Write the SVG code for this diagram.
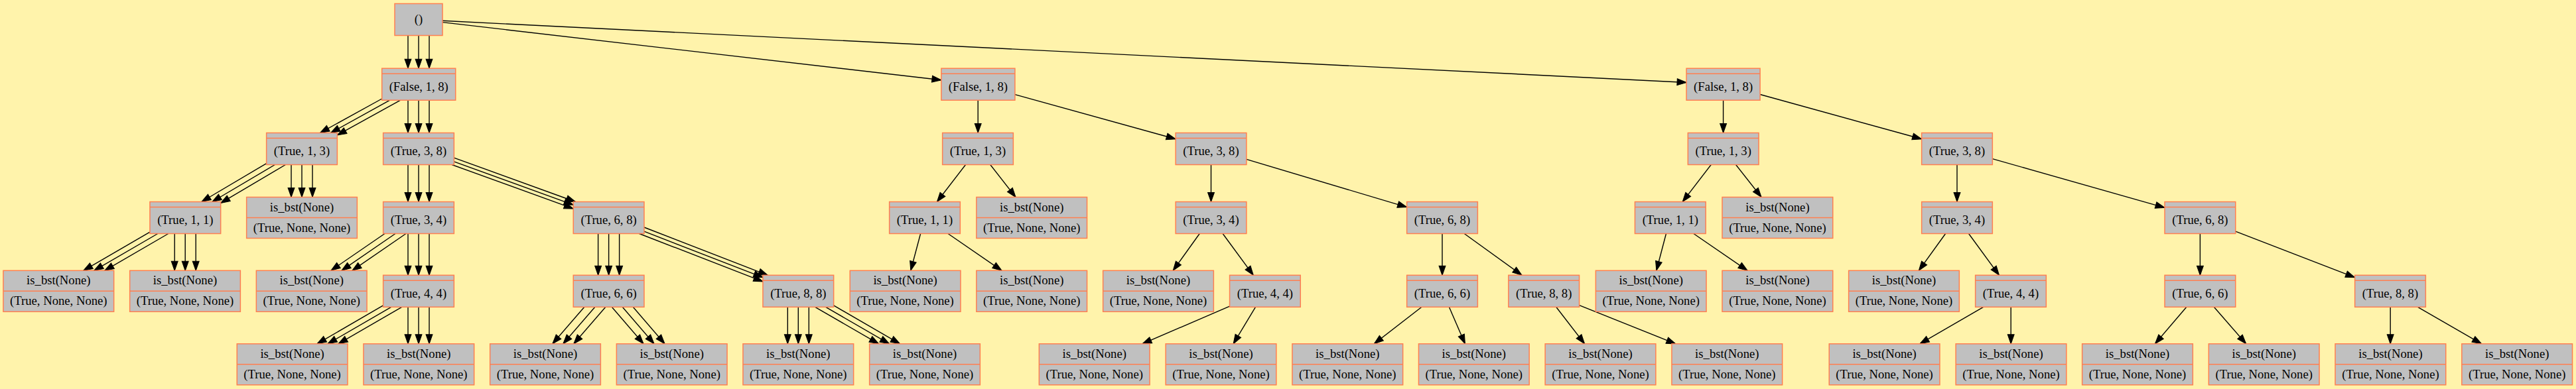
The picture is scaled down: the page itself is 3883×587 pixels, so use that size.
<svg xmlns="http://www.w3.org/2000/svg" width="3883" height="587" viewBox="0 0 3883 587">
<defs>
<style>
.bg{fill:#fff3ab}
.nr{fill:#c0c0c0;stroke:#ff7f50;stroke-width:1.5}
.nl{stroke:#ff7f50;stroke-width:1.5}
.nt{font-family:"Liberation Serif","Times New Roman",serif;font-size:18.67px;text-anchor:middle;fill:#000}
#edges path{fill:none;stroke:#000;stroke-width:1.4;marker-end:url(#ah)}
</style>
<marker id="ah" markerUnits="userSpaceOnUse" markerWidth="14" markerHeight="10" refX="13.3" refY="4.67" orient="auto" viewBox="0 0 13.3 9.33" overflow="visible">
<path d="M0,0L13.3,4.67L0,9.33z" fill="#000" stroke="#000" stroke-width="1"/>
</marker>
<g id="rec">
<rect class="nr" x="-53.35" y="-24" width="106.7" height="48"/>
<line class="nl" x1="-53.35" y1="-16" x2="53.35" y2="-16"/>
</g>
<g id="recF">
<rect class="nr" x="-55.5" y="-24" width="111" height="48"/>
<line class="nl" x1="-55.5" y1="-16" x2="55.5" y2="-16"/>
</g>
<g id="leaf">
<rect class="nr" x="-83.35" y="-31" width="166.7" height="62"/>
<line class="nl" x1="-83.35" y1="0" x2="83.35" y2="0"/>
<text class="nt" x="0" y="-10">is_bst(None)</text>
<text class="nt" x="0" y="21">(True, None, None)</text>
</g>
</defs>
<rect class="bg" x="0" y="0" width="3883" height="587"/>

<g id="edges">
<path d="M615,53.5L615,103.2"/><path d="M631,53.5L631,103.2"/><path d="M647,53.5L647,103.2"/>
<path d="M575.7,149L482.5,200.5"/><path d="M587.7,151.2L498.5,200.5"/><path d="M603.7,151.2L508.35,203.9"/>
<path d="M615,151.2L615,200.5"/><path d="M631,151.2L631,200.5"/><path d="M647,151.2L647,200.5"/>
<path d="M401.65,246.6L303.85,304.5"/><path d="M414.45,248.5L319.85,304.5"/><path d="M430.45,248.5L332.65,306.4"/>
<path d="M439,248.5L439,297.5"/><path d="M455,248.5L455,297.5"/><path d="M471,248.5L471,297.5"/>
<path d="M615,248.5L615,304.5"/><path d="M631,248.5L631,304.5"/><path d="M647,248.5L647,304.5"/>
<path d="M681.14,248.5L864.25,314.95"/><path d="M684.35,243.86L864.25,309.14"/><path d="M684.35,238.05L867.46,304.5"/>
<path d="M225.95,350.15L125.79,408.3"/><path d="M237.89,352.5L141.79,408.3"/><path d="M253.89,352.5L157.79,408.3"/>
<path d="M263.2,352.5L263.2,408.3"/><path d="M279.2,352.5L279.2,408.3"/><path d="M295.2,352.5L295.2,408.3"/>
<path d="M580.03,352.5L498.87,408.3"/><path d="M596.03,352.5L514.87,408.3"/><path d="M612.03,352.5L530.87,408.3"/>
<path d="M615,352.5L615,415.3"/><path d="M631,352.5L631,415.3"/><path d="M647,352.5L647,415.3"/>
<path d="M901.6,352.5L901.6,415.3"/><path d="M917.6,352.5L917.6,415.3"/><path d="M933.6,352.5L933.6,415.3"/>
<path d="M963.48,352.5L1149.95,424.81"/><path d="M970.95,349.19L1149.95,418.61"/><path d="M970.95,342.99L1157.42,415.3"/>
<path d="M577.65,460.98L478.02,518.8"/><path d="M589.65,463.3L494.02,518.8"/><path d="M605.65,463.3L510.02,518.8"/>
<path d="M615,463.3L615,518.8"/><path d="M631,463.3L631,518.8"/><path d="M647,463.3L647,518.8"/>
<path d="M880.84,463.3L832.82,518.8"/><path d="M896.84,463.3L848.82,518.8"/><path d="M912.84,463.3L864.82,518.8"/>
<path d="M922.25,463.3L970.02,518.8"/><path d="M938.25,463.3L986.02,518.8"/><path d="M954.25,463.3L1002.02,518.8"/>
<path d="M1187.3,463.3L1187.3,518.8"/><path d="M1203.3,463.3L1203.3,518.8"/><path d="M1219.3,463.3L1219.3,518.8"/>
<path d="M1228.72,463.3L1324.5,518.8"/><path d="M1244.72,463.3L1340.5,518.8"/><path d="M1256.65,460.94L1356.5,518.8"/>

<path d="M667,33.67L1418.9,120.77"/>
<path d="M667,31.29L2542.1,124.44"/>

<path d="M1474.2,151.2L1474.2,200.5"/>
<path d="M1529.9,142.58L1772.15,209.72"/>
<path d="M1455.54,248.5L1412.46,304.5"/>
<path d="M1492.74,248.5L1531,297.5"/>
<path d="M1825.5,248.5L1825.5,304.5"/>
<path d="M1878.85,240.42L2120.65,312.58"/>
<path d="M1387.63,352.5L1372.83,408.3"/>
<path d="M1428.95,352.5L1510.06,408.3"/>
<path d="M1808.26,352.5L1768.26,408.3"/>
<path d="M1843.13,352.5L1889.27,415.3"/>
<path d="M2174,352.5L2174,415.3"/>
<path d="M2207.18,352.5L2294.02,415.3"/>
<path d="M1853.55,462.22L1721.86,518.8"/>
<path d="M1892.48,463.3L1859.13,518.8"/>
<path d="M2143.01,463.3L2071.33,518.8"/>
<path d="M2184.38,463.3L2208.39,518.8"/>
<path d="M2345.73,463.3L2388.57,518.8"/>
<path d="M2380.55,460.65L2525.84,518.8"/>

<path d="M2597.6,151.2L2597.6,200.5"/>
<path d="M2653.1,142.52L2896.65,209.77"/>
<path d="M2579.26,248.5L2536.24,304.5"/>
<path d="M2616.55,248.5L2655.05,297.5"/>
<path d="M2950,248.5L2950,304.5"/>
<path d="M3003.35,239.64L3263.05,313.36"/>
<path d="M2511.49,352.5L2496.85,408.3"/>
<path d="M2552.84,352.5L2634.15,408.3"/>
<path d="M2932.66,352.5L2892.4,408.3"/>
<path d="M2967.54,352.5L3013.46,415.3"/>
<path d="M3316.4,352.5L3316.4,415.3"/>
<path d="M3369.75,349.13L3549.65,418.67"/>
<path d="M2989.65,463.3L2894.02,518.8"/>
<path d="M3031.2,463.3L3031.2,518.8"/>
<path d="M3295.9,463.3L3248.48,518.8"/>
<path d="M3337.32,463.3L3385.68,518.8"/>
<path d="M3603.2,463.3L3603.2,518.8"/>
<path d="M3644.53,463.3L3740.56,518.8"/>
</g>

<g id="root"><rect class="nr" x="595" y="5.5" width="72" height="48"/><text class="nt" x="631" y="35">()</text></g>

<g id="t1_a" transform="translate(631.2,127.2)"><use href="#recF"/><text class="nt" x="0" y="9.5">(False, 1, 8)</text></g>
<g id="t1_b" transform="translate(455,224.5)"><use href="#rec"/><text class="nt" x="0" y="9.5">(True, 1, 3)</text></g>
<g id="t1_c" transform="translate(631,224.5)"><use href="#rec"/><text class="nt" x="0" y="9.5">(True, 3, 8)</text></g>
<g id="t1_d" transform="translate(279.3,328.5)"><use href="#rec"/><text class="nt" x="0" y="9.5">(True, 1, 1)</text></g>
<g id="t1_e" transform="translate(455,328.5)"><use href="#leaf"/></g>
<g id="t1_f" transform="translate(631,328.5)"><use href="#rec"/><text class="nt" x="0" y="9.5">(True, 3, 4)</text></g>
<g id="t1_g" transform="translate(917.6,328.5)"><use href="#rec"/><text class="nt" x="0" y="9.5">(True, 6, 8)</text></g>
<g id="t1_d1" transform="translate(88.3,439.3)"><use href="#leaf"/></g>
<g id="t1_d2" transform="translate(279,439.3)"><use href="#leaf"/></g>
<g id="t1_f1" transform="translate(469.7,439.3)"><use href="#leaf"/></g>
<g id="t1_h" transform="translate(631,439.3)"><use href="#rec"/><text class="nt" x="0" y="9.5">(True, 4, 4)</text></g>
<g id="t1_i" transform="translate(917.6,439.3)"><use href="#rec"/><text class="nt" x="0" y="9.5">(True, 6, 6)</text></g>
<g id="t1_j" transform="translate(1203.3,439.3)"><use href="#rec"/><text class="nt" x="0" y="9.5">(True, 8, 8)</text></g>
<g id="t1_h1" transform="translate(440.6,549.8)"><use href="#leaf"/></g>
<g id="t1_h2" transform="translate(631.3,549.8)"><use href="#leaf"/></g>
<g id="t1_i1" transform="translate(822,549.8)"><use href="#leaf"/></g>
<g id="t1_i2" transform="translate(1012.7,549.8)"><use href="#leaf"/></g>
<g id="t1_j1" transform="translate(1203.3,549.8)"><use href="#leaf"/></g>
<g id="t1_j2" transform="translate(1394,549.8)"><use href="#leaf"/></g>

<g id="t2_a" transform="translate(1474.4,127.2)"><use href="#recF"/><text class="nt" x="0" y="9.5">(False, 1, 8)</text></g>
<g id="t2_b" transform="translate(1474,224.5)"><use href="#rec"/><text class="nt" x="0" y="9.5">(True, 1, 3)</text></g>
<g id="t2_c" transform="translate(1825.5,224.5)"><use href="#rec"/><text class="nt" x="0" y="9.5">(True, 3, 8)</text></g>
<g id="t2_d" transform="translate(1394,328.5)"><use href="#rec"/><text class="nt" x="0" y="9.5">(True, 1, 1)</text></g>
<g id="t2_e" transform="translate(1555.2,328.5)"><use href="#leaf"/></g>
<g id="t2_f" transform="translate(1825.5,328.5)"><use href="#rec"/><text class="nt" x="0" y="9.5">(True, 3, 4)</text></g>
<g id="t2_g" transform="translate(2174,328.5)"><use href="#rec"/><text class="nt" x="0" y="9.5">(True, 6, 8)</text></g>
<g id="t2_d1" transform="translate(1364.6,439.3)"><use href="#leaf"/></g>
<g id="t2_d2" transform="translate(1555.2,439.3)"><use href="#leaf"/></g>
<g id="t2_f1" transform="translate(1746,439.3)"><use href="#leaf"/></g>
<g id="t2_h" transform="translate(1906.9,439.3)"><use href="#rec"/><text class="nt" x="0" y="9.5">(True, 4, 4)</text></g>
<g id="t2_i" transform="translate(2174,439.3)"><use href="#rec"/><text class="nt" x="0" y="9.5">(True, 6, 6)</text></g>
<g id="t2_j" transform="translate(2327.2,439.3)"><use href="#rec"/><text class="nt" x="0" y="9.5">(True, 8, 8)</text></g>
<g id="t2_h1" transform="translate(1649.7,549.8)"><use href="#leaf"/></g>
<g id="t2_h2" transform="translate(1840.5,549.8)"><use href="#leaf"/></g>
<g id="t2_i1" transform="translate(2031.3,549.8)"><use href="#leaf"/></g>
<g id="t2_i2" transform="translate(2221.8,549.8)"><use href="#leaf"/></g>
<g id="t2_j1" transform="translate(2412.5,549.8)"><use href="#leaf"/></g>
<g id="t2_j2" transform="translate(2603.3,549.8)"><use href="#leaf"/></g>

<g id="t3_a" transform="translate(2597.6,127.2)"><use href="#recF"/><text class="nt" x="0" y="9.5">(False, 1, 8)</text></g>
<g id="t3_b" transform="translate(2597.7,224.5)"><use href="#rec"/><text class="nt" x="0" y="9.5">(True, 1, 3)</text></g>
<g id="t3_c" transform="translate(2950,224.5)"><use href="#rec"/><text class="nt" x="0" y="9.5">(True, 3, 8)</text></g>
<g id="t3_d" transform="translate(2517.8,328.5)"><use href="#rec"/><text class="nt" x="0" y="9.5">(True, 1, 1)</text></g>
<g id="t3_e" transform="translate(2679.4,328.5)"><use href="#leaf"/></g>
<g id="t3_f" transform="translate(2950,328.5)"><use href="#rec"/><text class="nt" x="0" y="9.5">(True, 3, 4)</text></g>
<g id="t3_g" transform="translate(3316.4,328.5)"><use href="#rec"/><text class="nt" x="0" y="9.5">(True, 6, 8)</text></g>
<g id="t3_d1" transform="translate(2488.7,439.3)"><use href="#leaf"/></g>
<g id="t3_d2" transform="translate(2679.4,439.3)"><use href="#leaf"/></g>
<g id="t3_f1" transform="translate(2870,439.3)"><use href="#leaf"/></g>
<g id="t3_h" transform="translate(3031,439.3)"><use href="#rec"/><text class="nt" x="0" y="9.5">(True, 4, 4)</text></g>
<g id="t3_i" transform="translate(3316.4,439.3)"><use href="#rec"/><text class="nt" x="0" y="9.5">(True, 6, 6)</text></g>
<g id="t3_j" transform="translate(3603,439.3)"><use href="#rec"/><text class="nt" x="0" y="9.5">(True, 8, 8)</text></g>
<g id="t3_h1" transform="translate(2840.6,549.8)"><use href="#leaf"/></g>
<g id="t3_h2" transform="translate(3031.5,549.8)"><use href="#leaf"/></g>
<g id="t3_i1" transform="translate(3222,549.8)"><use href="#leaf"/></g>
<g id="t3_i2" transform="translate(3412.7,549.8)"><use href="#leaf"/></g>
<g id="t3_j1" transform="translate(3603.4,549.8)"><use href="#leaf"/></g>
<g id="t3_j2" transform="translate(3794.2,549.8)"><use href="#leaf"/></g>
</svg>
